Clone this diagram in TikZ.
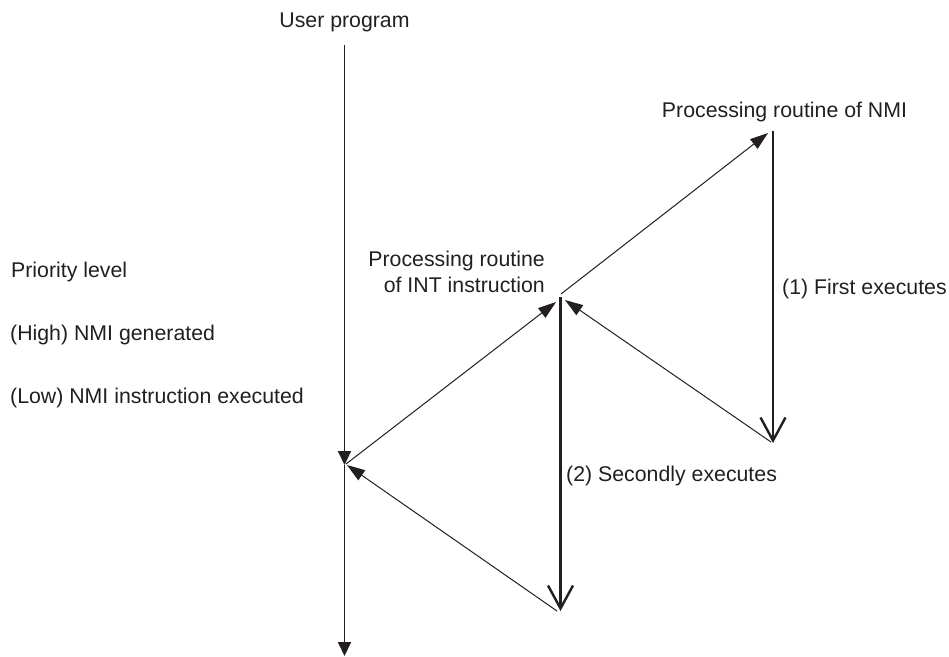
\documentclass[tikz,border=0pt]{standalone}
\usepackage{fontspec}
\setmainfont{Liberation Sans}
\usetikzlibrary{arrows.meta}
\definecolor{ink}{HTML}{231F20}
\tikzset{
  lbl/.style={inner sep=0pt, text=ink, font=\fontsize{21.3}{26}\selectfont},
  mainline/.style={draw=ink, line width=1.9pt, -{Triangle[length=14pt,width=13pt]}},
  jumpline/.style={draw=ink, line width=1pt, -{Triangle[length=18pt,width=12pt]}},
  execline/.style={draw=ink, line width=2.4pt, -{Straight Barb[length=23pt,width=25pt,line width=2.4pt]}},
}
\begin{document}
\begin{tikzpicture}[x=1pt,y=-1pt]
\useasboundingbox (0,0) rectangle (949,656);
% coordinates
\coordinate (top) at (344.5,45);
\coordinate (A) at (344.5,465);
\coordinate (bot) at (344.5,656);
\coordinate (B) at (560.5,297);
\coordinate (Bend) at (560.5,611);
\coordinate (C) at (773,131);
\coordinate (Cend) at (773,443);
\coordinate (Aret) at (347,465);
\coordinate (Bret) at (565,300);
\coordinate (Aout) at (346,464);
\coordinate (Bin) at (556,302);
\coordinate (Bout) at (561,294);
\coordinate (Cin) at (768,133);
\coordinate (Bstart) at (557,611);
\coordinate (Cstart) at (771,442);
% labels
\node[lbl, anchor=base] (up) at (344.5,27) {User program};
\node[lbl, anchor=base] (nmi) at (784.5,117) {Processing routine of NMI};
\node[lbl, anchor=base east] (int1) at (545,266) {Processing routine};
\node[lbl, anchor=base east] (int2) at (545,292) {of INT instruction};
\node[lbl, anchor=base west] (first) at (782,294) {(1) First executes};
\node[lbl, anchor=base west] (second) at (566,481) {(2) Secondly executes};
\node[lbl, anchor=base west] (prio) at (11,277) {Priority level};
\node[lbl, anchor=base west] (high) at (10,340) {(High) NMI generated};
\node[lbl, anchor=base west] (low) at (10,403) {(Low) NMI instruction executed};
% connectors
\draw[mainline] (top) -- (A);
\draw[mainline] (A) -- (bot);
\draw[jumpline] (Aout) -- (Bin);
\draw[jumpline] (Bout) -- (Cin);
\draw[execline] (C) -- (Cend);
\draw[execline] (B) -- (Bend);
\draw[jumpline] (Cstart) -- (Bret);
\draw[jumpline] (Bstart) -- (Aret);
\end{tikzpicture}
\end{document}
